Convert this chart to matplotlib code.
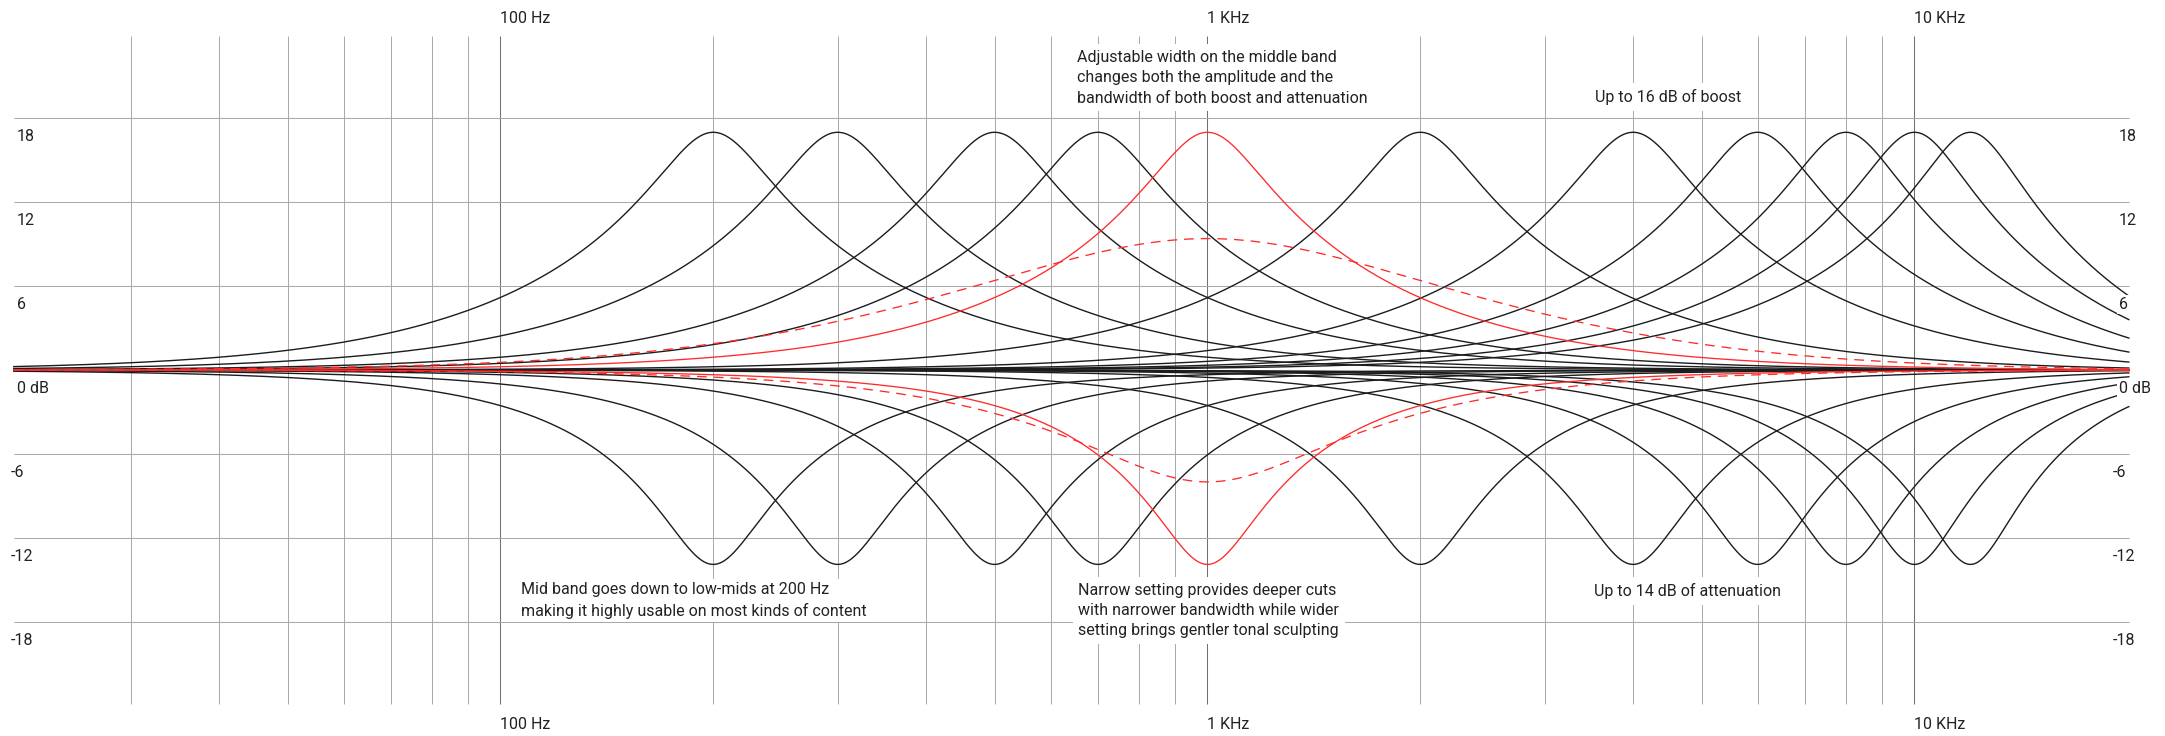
import numpy as np
import matplotlib
matplotlib.use("Agg")
from matplotlib import pyplot as plt

plt.rcParams["font.family"] = ["Roboto", "DejaVu Sans"]
plt.rcParams["lines.scale_dashes"] = False

# grid
grid_freqs = [30, 40, 50, 60, 70, 80, 90, 100, 200, 300, 400, 500, 600, 700, 800, 900,
              1000, 2000, 3000, 4000, 5000, 6000, 7000, 8000, 9000, 10000]
decade_freqs = [100, 1000, 10000]
decade_labels = ["100 Hz", "1 KHz", "10 KHz"]
grid_db = [18, 12, 6, 0, -6, -12, -18]
db_labels = ["18", "12", "6", "0 dB", "-6", "-12", "-18"]

# black bands: boost and cut at each centre frequency
band_freqs = [200, 300, 500, 700, 2000, 4000, 6000, 8000, 10000, 12000]
boost_gain, boost_q = 17.0, 1.13
cut_gain, cut_q = -13.9, 1.6

# red middle band at 1 kHz: narrow (solid) and wide (dashed) settings
mid_freq = 1000
mid_gains = [17.0, -13.9, 9.4, -8.0]
mid_qs = [1.13, 1.6, 0.44, 0.85]
mid_styles = ["solid", "solid", "dashed", "dashed"]

f_lo, f_hi = 20.5, 20100
fs = 80000

adjust_text = ("Adjustable width on the middle band\n"
               "changes both the amplitude and the\n"
               "bandwidth of both boost and attenuation")
boost_text = "Up to 16 dB of boost"
low_mid_text = ("Mid band goes down to low-mids at 200 Hz\n"
                "making it highly usable on most kinds of content")
narrow_text = ("Narrow setting provides deeper cuts\n"
               "with narrower bandwidth while wider\n"
               "setting brings gentler tonal sculpting")
atten_text = "Up to 14 dB of attenuation"


def peaking_db(f, f0, gain, q):
    # RBJ cookbook peaking filter
    A = 10 ** (gain / 40)
    w0 = 2 * np.pi * f0 / fs
    alpha = np.sin(w0) / (2 * q)
    b = [1 + alpha * A, -2 * np.cos(w0), 1 - alpha * A]
    a = [1 + alpha / A, -2 * np.cos(w0), 1 - alpha / A]
    z = np.exp(-2j * np.pi * f / fs)
    h = (b[0] + b[1] * z + b[2] * z ** 2) / (a[0] + a[1] * z + a[2] * z ** 2)
    return 20 * np.log10(np.abs(h))


freqs = np.geomspace(f_lo, f_hi, 3000)

fig = plt.figure(figsize=(21.65, 7.36), dpi=100)
ax = fig.add_axes([0, 0, 1, 1])
ax.set_xscale("log")
ax.set_xlim(19.6, 22612)
ax.set_ylim(-26.17, 26.46)
ax.axis("off")

# grid lines
minor = [f for f in grid_freqs if f not in decade_freqs]
ax.vlines(minor, -23.9, 23.9, color="#a8a8a8", lw=0.7, zorder=1)
ax.vlines(decade_freqs, -23.9, 23.9, color="#707070", lw=0.75, zorder=1)
ax.hlines(grid_db, f_lo, f_hi, color="#a8a8a8", lw=0.75, zorder=1)

# curves
for f0 in band_freqs:
    ax.plot(freqs, peaking_db(freqs, f0, boost_gain, boost_q), color="#1c1c1c", lw=1.0, zorder=3)
    ax.plot(freqs, peaking_db(freqs, f0, cut_gain, cut_q), color="#1c1c1c", lw=1.0, zorder=3)
for g, q, ls in zip(mid_gains, mid_qs, mid_styles):
    kw = dict(dashes=(7, 5)) if ls == "dashed" else {}
    ax.plot(freqs, peaking_db(freqs, mid_freq, g, q), color="#ff2b2b", lw=0.95, zorder=4, **kw)

txt = dict(fontsize=11.5, color="#222222")
box = dict(facecolor="white", edgecolor="none", pad=4)

# frequency labels top and bottom
for f, lbl in zip(decade_freqs, decade_labels):
    ax.text(f, 24.8, lbl, ha="left", va="baseline", **txt)
    ax.text(f, -25.66, lbl, ha="left", va="baseline", **txt)

# dB labels left and right
for db, lbl in zip(grid_db, db_labels):
    neg = lbl.startswith("-")
    ax.annotate(lbl, (f_lo, db), xytext=(-3 if neg else 3, -23), textcoords="offset pixels",
                ha="left", va="baseline", zorder=5,
                bbox=dict(facecolor="white", edgecolor="none", pad=1.5), **txt)
    ax.annotate(lbl, (f_hi, db), xytext=(-16 if neg else -10, -23), textcoords="offset pixels",
                ha="left", va="baseline", zorder=5,
                bbox=dict(facecolor="white", edgecolor="none", pad=1.5), **txt)

# annotations
ls = 1.44
ax.text(654, 22.88, adjust_text, ha="left", va="top", linespacing=ls, bbox=box, zorder=2, **txt)
ax.text(3528, 19.17, boost_text, ha="left", va="baseline", bbox=box, zorder=2, **txt)
ax.text(107, -15.15, low_mid_text, ha="left", va="top", linespacing=ls, zorder=2,
        bbox=dict(facecolor="white", edgecolor="none", pad=2.2), **txt)
ax.text(657, -15.22, narrow_text, ha="left", va="top", linespacing=ls, bbox=box, zorder=2, **txt)
ax.text(3524, -16.16, atten_text, ha="left", va="baseline", bbox=box, zorder=2, **txt)

fig.savefig("out.png", dpi=100, facecolor="white")
